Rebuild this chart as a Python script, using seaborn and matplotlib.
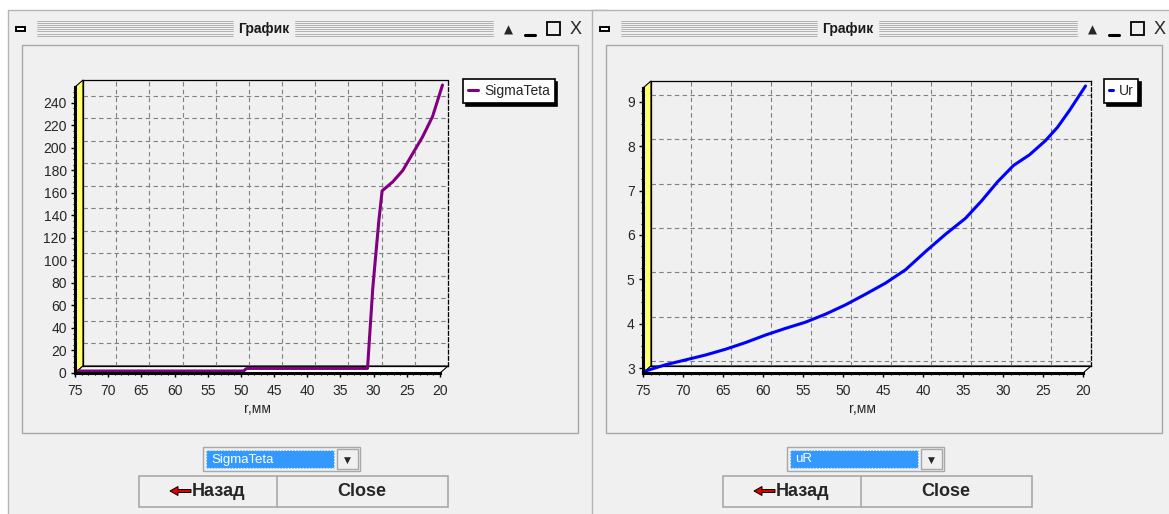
import numpy as np
import pandas as pd
import seaborn as sns
import matplotlib.pyplot as plt
from matplotlib.patches import Rectangle, Polygon, FancyArrow
from matplotlib.transforms import ScaledTranslation
from matplotlib.ticker import MultipleLocator

# SigmaTeta(r)
r_sigma = [75, 50, 49.5, 31.3, 30.5, 29.6, 29.1, 27.5, 26.0, 24.5, 23.0, 21.5, 20]
sigma = [0, 0, 2.3, 2.3, 74, 133, 160, 168, 178, 193, 208, 226, 254]

# Ur(r)
r_ur = [75, 72.5, 70, 67.5, 65, 62.5, 60, 57.5, 55, 52.5, 50, 47.5, 45, 42.5,
        40, 37.5, 35, 33, 31, 29, 27, 25, 23.5, 22, 20]
ur = [2.89, 3.03, 3.14, 3.25, 3.38, 3.53, 3.70, 3.85, 3.99, 4.17, 4.38, 4.62,
      4.87, 5.17, 5.58, 5.97, 6.33, 6.72, 7.15, 7.52, 7.76, 8.08, 8.38, 8.76, 9.31]

x_ticks = [75, 70, 65, 60, 55, 50, 45, 40, 35, 30, 25, 20]
combo_items = ["SigmaTeta", "uR"]

W, H = 1169, 514
DX, DY = 8, 7  # depth of the 3D walls, px

sns.set_theme(style="white")
plt.rcParams['font.family'] = ['Liberation Sans', 'DejaVu Sans']

fig = plt.figure(figsize=(W / 100, H / 100), dpi=100)
fig.patch.set_facecolor('white')

ui = fig.add_axes([0, 0, 1, 1])
ui.set_xlim(0, W)
ui.set_ylim(H, 0)
ui.axis('off')


def px_box(l, t, r, b):
    return [l / W, 1 - b / H, (r - l) / W, (b - t) / H]


def draw_window(x0, combo_text):
    ui.add_patch(Rectangle((x0, 10), 600, 520, fc='#F0F0F0', ec='#B4B4B4', lw=1))
    # title bar
    ui.add_patch(Rectangle((x0 + 8, 26.5), 9, 4, fc='white', ec='black', lw=1.4))
    for y in np.arange(20.5, 37, 2.2):
        ui.plot([x0 + 29, x0 + 225], [y, y], color='#A8A8A8', lw=0.6)
        ui.plot([x0 + 287, x0 + 485], [y, y], color='#A8A8A8', lw=0.6)
    ui.text(x0 + 256, 29, 'График', ha='center', va='center',
            fontsize=10, fontweight='bold', color='#1a1a1a')
    ui.text(x0 + 500, 30, '▲', ha='center', va='center', fontsize=8.5,
            family='DejaVu Sans')
    ui.plot([x0 + 517, x0 + 527], [35, 35], color='black', lw=2.2)
    ui.add_patch(Rectangle((x0 + 539, 22), 13, 13, fc='none', ec='black', lw=1.3))
    ui.text(x0 + 568, 29.5, 'X', ha='center', va='center', fontsize=13)
    # chart panel
    ui.add_patch(Rectangle((x0 + 14, 45), 556, 388, fc='#F0F0F0', ec='#A8A8A8', lw=1))
    # combo box
    ui.add_patch(Rectangle((x0 + 195, 447), 157, 24, fc='#F0F0F0', ec='#A8A8A8', lw=1))
    ui.add_patch(Rectangle((x0 + 198, 450), 128, 18, fc='#3399FF', ec='white',
                           lw=0.8, ls=':'))
    ui.text(x0 + 203, 459.5, combo_text, ha='left', va='center', fontsize=9.5,
            color='white')
    ui.add_patch(Rectangle((x0 + 329, 449), 21, 20, fc='#F0F0F0', ec='#A8A8A8', lw=1))
    ui.text(x0 + 339.5, 460, '▼', ha='center', va='center', fontsize=6.5,
            family='DejaVu Sans')
    # buttons
    ui.add_patch(Rectangle((x0 + 131, 476), 309, 31, fc='#F0F0F0', ec='#A8A8A8', lw=1.2))
    ui.plot([x0 + 269, x0 + 269], [476, 507], color='#A8A8A8', lw=1.2)
    ui.add_patch(FancyArrow(x0 + 183, 491, -21, 0, width=3, head_width=9,
                            head_length=8, length_includes_head=True,
                            fc='#E00000', ec='black', lw=0.7))
    ui.text(x0 + 184, 491.5, 'Назад', ha='left', va='center', fontsize=13,
            fontweight='bold')
    ui.text(x0 + 354, 491.5, 'Close', ha='center', va='center', fontsize=13,
            fontweight='bold')


def draw_chart(L, T, R, B, x, y, color, label, ylim, ymajor, yminor, leg_x, handle_len):
    # back wall with dashed grid
    back = fig.add_axes(px_box(L + DX, T - DY, R + DX, B - DY))
    back.set_facecolor('none')
    back.set_xlim(75, 20)
    back.set_ylim(*ylim)
    back.xaxis.set_major_locator(MultipleLocator(5))
    back.yaxis.set_major_locator(MultipleLocator(ymajor))
    back.tick_params(length=0, labelleft=False, labelbottom=False)
    back.grid(True, color='#808080', lw=0.8, ls=(0, (4, 3)))
    for s in back.spines.values():
        s.set_color('black')
        s.set_linewidth(0.9)
    back.spines['right'].set_linestyle((0, (3, 2)))

    # left wall and floor
    ui.add_patch(Polygon([(L, B), (L, T), (L + DX, T - DY), (L + DX, B - DY)],
                         closed=True, fc='#FFFF70', ec='black', lw=0.8))
    ui.add_patch(Polygon([(L, B), (R, B), (R + DX, B - DY), (L + DX, B - DY)],
                         closed=True, fc='white', ec='black', lw=0.8))

    # front axes with data
    ax = fig.add_axes(px_box(L, T, R, B))
    ax.set_facecolor('none')
    df = pd.DataFrame({'r': x, 'v': y})
    sns.lineplot(data=df, x='r', y='v', ax=ax, color=color, lw=2.2,
                 label=label, estimator=None, sort=False)
    off = ScaledTranslation(0.025, 0.02, fig.dpi_scale_trans)
    for line in ax.lines:
        line.set_transform(line.get_transform() + off)
        line.set_clip_on(False)
    ax.set_xlim(75, 20)
    ax.set_ylim(*ylim)
    ax.set_xticks(x_ticks)
    ax.xaxis.set_minor_locator(MultipleLocator(1))
    ax.yaxis.set_major_locator(MultipleLocator(ymajor))
    ax.yaxis.set_minor_locator(MultipleLocator(yminor))
    ax.tick_params(which='major', direction='out', length=3, width=1,
                   color='black', labelsize=10, pad=3, left=True, bottom=True)
    ax.tick_params(which='minor', direction='out', length=1.6, width=0.8,
                   color='black', left=True, bottom=True)
    ax.tick_params(axis='x', which='major', pad=5)
    for side in ['top', 'right']:
        ax.spines[side].set_visible(False)
    for side in ['left', 'bottom']:
        ax.spines[side].set_color('black')
        ax.spines[side].set_linewidth(2.2)
    ax.set_xlabel('r,мм', fontsize=10, labelpad=3)
    ax.set_ylabel('')

    leg = ax.legend(loc='upper left', bbox_to_anchor=(leg_x / W, 1 - 79 / H),
                    bbox_transform=fig.transFigure, borderaxespad=0,
                    fontsize=10, handlelength=handle_len, handletextpad=0.4,
                    borderpad=0.35, fancybox=False, framealpha=1,
                    facecolor='white', edgecolor='black',
                    shadow={'color': 'black', 'alpha': 1})
    leg.get_frame().set_linewidth(1.2)
    return ax


draw_window(8, combo_items[0])
draw_window(592, combo_items[1])

draw_chart(75, 87, 440, 373, r_sigma, sigma, '#800080', 'SigmaTeta',
           (0, max(sigma)), 20, 5, 463, 0.75)
draw_chart(643, 88, 1083, 373, r_ur, ur, '#0000FF', 'Ur',
           (min(ur), max(ur)), 1, 0.25, 1104, 0.3)

fig.savefig('out.png', dpi=100, facecolor=fig.get_facecolor())
